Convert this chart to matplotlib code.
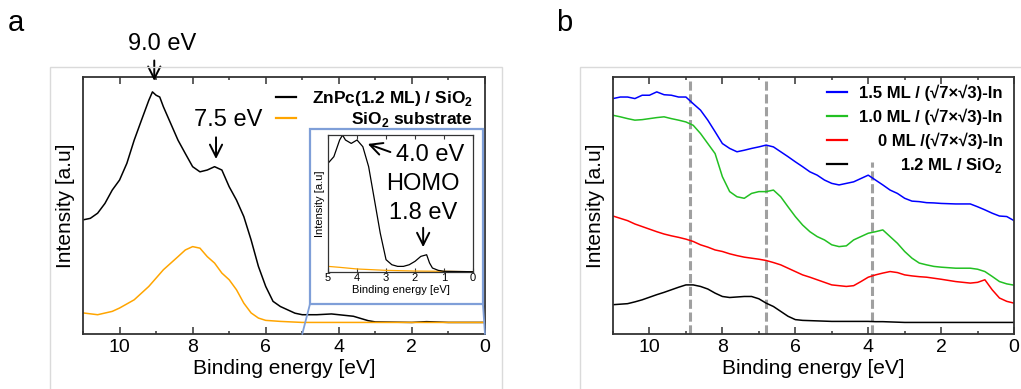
import matplotlib.pyplot as plt
from matplotlib.patches import Rectangle, ConnectionPatch
from matplotlib.ticker import MultipleLocator

plt.rcParams['font.family'] = ['Liberation Sans', 'DejaVu Sans']
plt.rcParams['mathtext.fontset'] = 'custom'
plt.rcParams['mathtext.rm'] = 'Liberation Sans'
plt.rcParams['mathtext.bf'] = 'Liberation Sans:bold'

#----- DATA (arbitrary units 0-100) -----

# panel a, ZnPc(1.2 ML)/SiO2
ea_zn = [11.0, 10.8, 10.6, 10.4, 10.2, 10.0, 9.8, 9.6, 9.4, 9.2, 9.1, 9.0, 8.9, 8.8, 8.6, 8.4,
         8.2, 8.0, 7.8, 7.6, 7.4, 7.2, 7.0, 6.8, 6.6, 6.4, 6.2, 6.0, 5.8, 5.6, 5.4, 5.2,
         5.0, 4.6, 4.2, 4.0, 3.6, 3.2, 3.0, 2.0, 1.6, 1.0, 0.0]
ia_zn = [44.4, 45.0, 47.0, 50.8, 56.0, 59.9, 66.4, 75.4, 83.2, 90.9, 94.2, 92.9, 92.2, 88.4, 81.9, 75.4,
         70.2, 65.1, 63.1, 63.8, 65.1, 63.8, 57.3, 52.1, 45.7, 36.6, 26.3, 18.5, 12.7, 10.7, 9.4, 8.1,
         7.5, 7.5, 7.8, 7.5, 6.9, 5.2, 4.7, 4.5, 4.8, 4.5, 4.5]
# panel a, SiO2 substrate
ea_sub = [11.0, 10.6, 10.2, 10.0, 9.6, 9.2, 8.8, 8.4, 8.2, 8.0, 7.8, 7.6, 7.4, 7.2, 7.0, 6.8,
          6.6, 6.4, 6.2, 6.0, 5.6, 5.0, 0.0]
ia_sub = [8.2, 7.5, 8.8, 10.1, 13.3, 18.5, 25.0, 30.1, 32.7, 34.0, 33.4, 30.1, 27.6, 23.7, 21.1, 17.2,
          12.0, 8.2, 6.2, 5.3, 4.9, 4.5, 4.5]

# inset, 5-0 eV
ei_zn = [5.0, 4.8, 4.6, 4.5, 4.4, 4.2, 4.0, 3.8, 3.6, 3.4, 3.2, 3.0, 2.8, 2.6, 2.4, 2.2,
         2.0, 1.8, 1.6, 1.5, 1.4, 1.2, 1.0, 0.0]
ii_zn = [79.4, 84.2, 96.4, 100.0, 96.4, 93.9, 96.4, 91.5, 76.9, 52.7, 28.4, 9.0, 5.3, 4.1, 4.1, 5.3,
         7.8, 11.4, 12.6, 6.6, 2.9, 1.2, 0.5, 0.2]
ei_sub = [5.0, 4.6, 4.0, 3.0, 2.0, 1.0, 0.0]
ii_sub = [4.1, 3.4, 2.2, 1.2, 0.7, 0.5, 0.2]

# panel b
eb = [11.0, 10.8, 10.6, 10.4, 10.2, 10.0, 9.8, 9.6, 9.4, 9.2, 9.0, 8.8, 8.6, 8.4, 8.2, 8.0,
      7.8, 7.6, 7.4, 7.2, 7.0, 6.8, 6.6, 6.4, 6.2, 6.0, 5.8, 5.6, 5.4, 5.2, 5.0, 4.8,
      4.6, 4.4, 4.2, 4.0, 3.8, 3.6, 3.4, 3.2, 3.0, 2.8, 2.6, 2.4, 2.2, 2.0, 1.6, 1.2,
      1.0, 0.8, 0.6, 0.4, 0.2, 0.0]
ib_15 = [91.6, 92.2, 92.2, 91.6, 92.9, 92.9, 94.2, 93.1, 92.9, 92.2, 92.2, 89.6, 87.1, 83.2, 78.7, 74.1,
         72.2, 70.9, 71.5, 72.2, 72.8, 73.5, 72.8, 70.9, 69.0, 67.0, 65.1, 63.1, 61.8, 59.9, 58.6, 58.0,
         58.6, 59.2, 60.5, 61.8, 59.9, 58.0, 56.0, 54.7, 52.8, 51.7, 51.5, 51.1, 51.0, 50.8, 50.6, 50.6,
         49.5, 48.3, 47.0, 45.9, 45.7, 44.1]
ib_10 = [85.1, 84.5, 83.8, 83.2, 83.4, 83.8, 84.2, 84.5, 83.8, 83.2, 82.5, 81.2, 78.0, 74.1, 70.2, 61.2,
         55.4, 53.4, 52.8, 54.7, 55.4, 55.4, 56.0, 53.4, 49.5, 45.7, 42.4, 39.8, 37.9, 36.6, 34.7, 34.0,
         34.3, 36.6, 37.9, 39.2, 39.8, 40.5, 37.9, 35.3, 32.1, 29.5, 27.6, 26.9, 26.3, 26.0, 25.6, 25.6,
         25.2, 24.3, 22.4, 20.4, 19.5, 19.0]
ib_00 = [45.9, 45.0, 44.1, 42.8, 41.8, 40.8, 39.8, 38.9, 38.2, 37.6, 36.9, 36.0, 34.7, 33.8, 32.7, 32.1,
         31.2, 30.5, 29.9, 29.5, 29.1, 28.6, 27.8, 26.9, 25.6, 24.3, 23.0, 22.1, 21.1, 20.1, 19.1, 18.8,
         18.5, 18.8, 20.4, 22.1, 23.0, 23.7, 24.3, 23.9, 23.0, 22.6, 22.3, 22.1, 21.7, 21.3, 20.4, 19.8,
         20.1, 21.1, 17.2, 14.0, 12.7, 12.0]
ib_si = [11.4, 11.6, 11.8, 12.5, 13.3, 14.3, 15.3, 16.2, 17.2, 18.2, 19.1, 19.1, 18.5, 17.5, 15.9, 14.6,
         14.2, 14.4, 14.6, 14.6, 13.7, 12.0, 10.7, 8.8, 6.9, 5.6, 5.3, 5.2, 5.1, 5.0, 4.9, 4.9,
         4.9, 4.9, 4.9, 4.9, 4.8, 4.8, 4.7, 4.6, 4.5, 4.5, 4.5, 4.5, 4.5, 4.5, 4.5, 4.5,
         4.5, 4.5, 4.5, 4.5, 4.5, 4.5]
dash_e = [8.9, 6.8, 3.9]
dash_top = [100, 100, 67]

labels_a = [r'ZnPc(1.2 ML) / SiO$_\mathbf{2}$', r'SiO$_\mathbf{2}$ substrate']
labels_b = ['1.5 ML / (\u221a7\u00d7\u221a3)-In', '1.0 ML / (\u221a7\u00d7\u221a3)-In',
            '0 ML /(\u221a7\u00d7\u221a3)-In', r'1.2 ML / SiO$_\mathbf{2}$']

#----- FIGURE -----

fig = plt.figure(figsize=(10.21, 3.89), dpi=100)

# light grey panel frames
for x0, w in [(0.049, 0.443), (0.568, 0.45)]:
    fig.patches.append(Rectangle((x0, -0.1), w, 0.928, transform=fig.transFigure,
                                 fill=False, ec='#dadada', lw=1))


def style(ax, fs=14):
    ax.set_xlim(11, 0)
    ax.set_ylim(0, 100)
    ax.set_yticks([])
    ax.xaxis.set_major_locator(MultipleLocator(2))
    ax.xaxis.set_minor_locator(MultipleLocator(1))
    ax.tick_params(axis='x', which='both', direction='in', top=True, labelsize=fs,
                   color='#333333', width=1.1)
    ax.tick_params(axis='x', which='major', length=5)
    ax.tick_params(axis='x', which='minor', length=2.5)
    for s in ax.spines.values():
        s.set_color('#333333')
        s.set_linewidth(1.3)
    ax.set_xlabel('Binding energy [eV]', fontsize=15, labelpad=2)
    ax.set_ylabel('Intensity [a.u]', fontsize=15, labelpad=6)


def right_align(leg):
    # shift shorter legend labels so that all labels end at the same x
    r = fig.canvas.get_renderer()
    texts = leg.get_texts()
    widths = [t.get_window_extent(r).width for t in texts]
    wmax = max(widths)
    for t, w in zip(texts, widths):
        t.set_position((wmax - w, 0))


# ----- panel a -----
ax1 = fig.add_axes([0.0813, 0.1414, 0.3937, 0.6607])
ax1.plot(ea_zn, ia_zn, color='black', lw=1.1, label=labels_a[0])
ax1.plot(ea_sub, ia_sub, color='orange', lw=1.1, label=labels_a[1])
style(ax1)
leg1 = ax1.legend(loc='upper right', bbox_to_anchor=(1.0, 1.0), frameon=False,
                  prop={'weight': 'bold', 'size': 12.5}, handlelength=1.15,
                  handletextpad=0.9, labelspacing=0.1, borderaxespad=0.3)
for h in leg1.get_lines():
    h.set_linewidth(1.6)

arr = dict(arrowstyle='->', lw=1.4, color='black', mutation_scale=22)
ax1.annotate('', xy=(9.05, 97.4), xytext=(9.05, 107.5), arrowprops=arr, annotation_clip=False)
ax1.text(8.84, 112.9, '9.0 eV', fontsize=17, ha='center', va='center')
ax1.annotate('', xy=(7.36, 67.0), xytext=(7.36, 77.6), arrowprops=arr)
ax1.text(7.03, 83.2, '7.5 eV', fontsize=17, ha='center', va='center')

# inset
blue = '#7f9fd8'
fig.patches.append(Rectangle((0.3036, 0.2185), 0.1694, 0.450, transform=fig.transFigure,
                             fill=False, ec=blue, lw=1.6))
for (fx, fy), ex in [((0.3036, 0.2185), 5.0), ((0.4730, 0.2185), 0.0)]:
    fig.add_artist(ConnectionPatch(xyA=(fx, fy), coordsA=fig.transFigure,
                                   xyB=(ex, 0), coordsB=ax1.transData, color=blue, lw=1.3))

axi = fig.add_axes([0.3213, 0.3008, 0.142, 0.352])
axi.plot(ei_sub, ii_sub, color='orange', lw=0.9)
axi.plot(ei_zn, ii_zn, color='black', lw=0.9)
axi.set_xlim(5, 0)
axi.set_ylim(0, 100)
axi.set_yticks([])
axi.set_xticks([5, 4, 3, 2, 1, 0])
axi.tick_params(axis='x', direction='in', top=True, labelsize=8, length=3, pad=1, color='#333333')
for s in axi.spines.values():
    s.set_color('#333333')
    s.set_linewidth(0.9)
axi.set_xlabel('Binding energy [eV]', fontsize=8, labelpad=1)
axi.set_ylabel('Intensity [a.u]', fontsize=8, labelpad=2)
axi.annotate('', xy=(3.72, 94.2), xytext=(2.76, 86.9), arrowprops=arr)
axi.text(1.48, 85.4, '4.0 eV', fontsize=17, ha='center', va='center')
axi.text(1.72, 64.2, 'HOMO', fontsize=17, ha='center', va='center')
axi.text(1.72, 43.1, '1.8 eV', fontsize=17, ha='center', va='center')
axi.annotate('', xy=(1.72, 16.1), xytext=(1.72, 34.3), arrowprops=arr)

# ----- panel b -----
ax2 = fig.add_axes([0.6004, 0.1414, 0.3928, 0.6607])
ax2.vlines(dash_e, 0, dash_top, colors='#a0a0a0', linestyles=(0, (3, 1.2)), lw=2.2, zorder=1)
ax2.plot(eb, ib_15, color='#0000ff', lw=1.1, label=labels_b[0])
ax2.plot(eb, ib_10, color='#22c022', lw=1.1, label=labels_b[1])
ax2.plot(eb, ib_00, color='#ff0000', lw=1.1, label=labels_b[2])
ax2.plot(eb, ib_si, color='black', lw=1.1, label=labels_b[3])
style(ax2)
leg2 = ax2.legend(loc='upper right', bbox_to_anchor=(1.0, 1.016), frameon=False,
                  prop={'weight': 'bold', 'size': 12}, handlelength=1.2,
                  handletextpad=0.7, labelspacing=0.45, borderaxespad=0.3)
for h in leg2.get_lines():
    h.set_linewidth(1.6)

right_align(leg1)
right_align(leg2)

fig.text(0.008, 0.94, 'a', fontsize=21, va='center')
fig.text(0.545, 0.94, 'b', fontsize=21, va='center')

fig.savefig('out.png', dpi=100)
